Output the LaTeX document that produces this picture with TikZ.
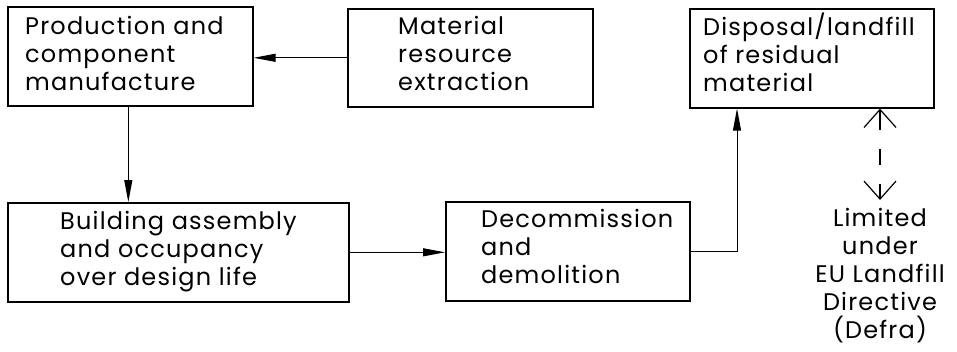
\documentclass[tikz,border=0pt]{standalone}
\usepackage{fontspec}
\setmainfont{Poppins}[LetterSpace=5]
\usetikzlibrary{arrows.meta,positioning,calc}
\begin{document}
\begin{tikzpicture}[x=1pt,y=-1pt,
  box/.style={draw,line width=1.6pt,rectangle,inner sep=0pt,anchor=north west},
  txt/.style={anchor=base west,align=left,inner sep=0pt,font=\fontsize{24}{27.8}\selectfont},
  arr/.style={line width=1pt,-{Triangle[length=22pt,width=8pt]}},
  darr/.style={line width=1.2pt,{Straight Barb[length=18pt,width=32pt]}-{Straight Barb[length=18pt,width=32pt]},
     dash pattern=on 20pt off 19pt on 16pt off 19pt on 30pt}]
\useasboundingbox (0,0) rectangle (957,351);
% boxes
\node[box,minimum width=245pt,minimum height=99pt] (prod) at (7,6) {};
\node[box,minimum width=245pt,minimum height=98pt] (mat) at (347,8) {};
\node[box,minimum width=244pt,minimum height=99pt] (disp) at (689,8) {};
\node[box,minimum width=341pt,minimum height=99pt] (bld) at (7,202) {};
\node[box,minimum width=244pt,minimum height=99pt] (dec) at (445,201) {};
% texts (anchored at the baseline of the last line)
\node[txt] (prodT) at (25,90) {Production and\\component\\manufacture};
\node[txt] (matT) at (398,90) {Material\\resource\\extraction};
\node[txt] (dispT) at (703,91) {Disposal/landfill\\of residual\\material};
\node[txt] (bldT) at (60,285) {Building assembly\\and occupancy\\over design life};
\node[txt] (decT) at (481,283) {Decommission\\and\\demolition};
\node[txt,anchor=base,align=center] (lim) at (880,338) {Limited\\under\\EU Landfill\\Directive\\(Defra)};
% connectors
\draw[arr] (mat.west) -- (prod.east |- mat.west);
\draw[arr] ([xshift=-2pt]prod.south) -- ([xshift=-2pt]bld.north -| prod.south);
\draw[arr] (bld.east) -- (dec.west |- bld.east);
\draw[arr] (dec.east) -| ([xshift=48pt]disp.south west);
\coordinate (dtip) at (880,200);
\draw[darr] (disp.south -| dtip) -- (dtip);
\end{tikzpicture}
\end{document}
